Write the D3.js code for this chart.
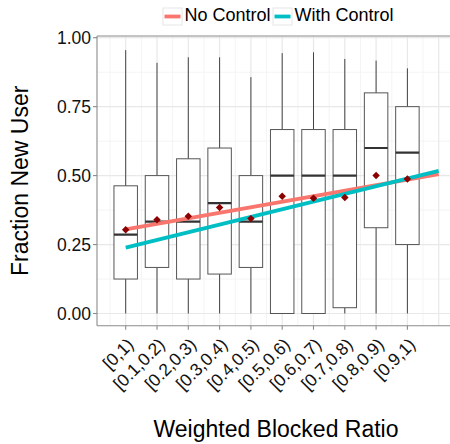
<!DOCTYPE html>
<html>
<head>
<meta charset="utf-8">
<script src="https://cdn.jsdelivr.net/npm/d3@7"></script>
<style>
  html, body { margin: 0; padding: 0; background: #fff; }
  svg { display: block; font-family: "Liberation Sans", Arial, Helvetica, sans-serif; }
</style>
</head>
<body>
<svg id="chart" width="450" height="444"></svg>
<script>
// ---- data ----
const categories = ["[0,1)", "[0.1,0.2)", "[0.2,0.3)", "[0.3,0.4)", "[0.4,0.5)",
                    "[0.5,0.6)", "[0.6,0.7)", "[0.7,0.8)", "[0.8,0.9)", "[0.9,1)"];
const whiskerLow  = [0, 0, 0, 0, 0, 0, 0, 0, 0, 0];
const q1          = [0.125, 0.167, 0.125, 0.143, 0.167, 0, 0, 0.021, 0.311, 0.25];
const medians     = [0.286, 0.333, 0.333, 0.4, 0.333, 0.5, 0.5, 0.5, 0.6, 0.583];
const q3          = [0.463, 0.5, 0.561, 0.6, 0.5, 0.667, 0.667, 0.667, 0.8, 0.75];
const whiskerHigh = [0.955, 0.909, 0.929, 0.929, 0.857, 0.944, 0.947, 0.923, 0.917, 0.889];
const means       = [0.304, 0.340, 0.353, 0.384, 0.344, 0.425, 0.418, 0.421, 0.5, 0.488];

const regX          = [1, 11];
const noControlY    = [0.305, 0.505];
const withControlY  = [0.239, 0.517];
const seriesNames   = ["No Control", "With Control"];
const seriesColors  = ["#F8766D", "#00BFC4"];

const yTicks = [0, 0.25, 0.5, 0.75, 1.0];
const yMinor = [0.125, 0.375, 0.625, 0.875];

// ---- layout ----
const svg = d3.select("#chart");
const panel = { left: 97, right: 455, top: 36, bottom: 325.7 };

const x = d3.scaleLinear().domain([1, 11]).range([125.7, 438.7]);
const y = d3.scaleLinear().domain([0, 1]).range([313.5, 37.7]);

const clipId = "panelClip";
svg.append("clipPath").attr("id", clipId)
  .append("rect").attr("x", panel.left).attr("y", panel.top)
  .attr("width", panel.right - panel.left).attr("height", panel.bottom - panel.top);

const g = svg.append("g").attr("clip-path", `url(#${clipId})`);

// grid
const xMajor = d3.range(1, 12);
const xMinor = d3.range(0.5, 12, 1);
g.selectAll("line.hminor").data(yMinor).enter().append("line")
  .attr("x1", panel.left).attr("x2", panel.right)
  .attr("y1", d => y(d)).attr("y2", d => y(d))
  .attr("stroke", "#f4f4f4").attr("stroke-width", 1);
g.selectAll("line.vminor").data(xMinor).enter().append("line")
  .attr("y1", panel.top).attr("y2", panel.bottom)
  .attr("x1", d => x(d)).attr("x2", d => x(d))
  .attr("stroke", "#f4f4f4").attr("stroke-width", 1);
g.selectAll("line.hmajor").data(yTicks).enter().append("line")
  .attr("x1", panel.left).attr("x2", panel.right)
  .attr("y1", d => y(d)).attr("y2", d => y(d))
  .attr("stroke", "#e8e8e8").attr("stroke-width", 1.2);
g.selectAll("line.vmajor").data(xMajor).enter().append("line")
  .attr("y1", panel.top).attr("y2", panel.bottom)
  .attr("x1", d => x(d)).attr("x2", d => x(d))
  .attr("stroke", "#e8e8e8").attr("stroke-width", 1.2);

// boxplots
const boxHalf = 0.375;
const boxes = categories.map((c, i) => ({
  i: i + 1, lo: whiskerLow[i], q1: q1[i], med: medians[i], q3: q3[i], hi: whiskerHigh[i]
}));
const bg = g.append("g");
boxes.forEach(b => {
  const cx = x(b.i);
  bg.append("line").attr("x1", cx).attr("x2", cx)
    .attr("y1", y(b.q3)).attr("y2", y(b.hi))
    .attr("stroke", "#444").attr("stroke-width", 1);
  bg.append("line").attr("x1", cx).attr("x2", cx)
    .attr("y1", y(b.q1)).attr("y2", y(b.lo))
    .attr("stroke", "#444").attr("stroke-width", 1);
  bg.append("rect")
    .attr("x", x(b.i - boxHalf)).attr("width", x(b.i + boxHalf) - x(b.i - boxHalf))
    .attr("y", y(b.q3)).attr("height", y(b.q1) - y(b.q3))
    .attr("fill", "#fff").attr("stroke", "#555").attr("stroke-width", 1);
  bg.append("line")
    .attr("x1", x(b.i - boxHalf)).attr("x2", x(b.i + boxHalf))
    .attr("y1", y(b.med)).attr("y2", y(b.med))
    .attr("stroke", "#333").attr("stroke-width", 2.2);
});

// regression lines
const line = d3.line().x(d => x(d[0])).y(d => y(d[1]));
[noControlY, withControlY].forEach((ys, k) => {
  g.append("path")
    .datum(regX.map((xx, j) => [xx, ys[j]]))
    .attr("d", line).attr("fill", "none")
    .attr("stroke", seriesColors[k]).attr("stroke-width", 3.8);
});

// means
const diamond = d3.symbol().type(d3.symbolSquare).size(28);
g.selectAll("path.mean").data(means).enter().append("path")
  .attr("d", diamond)
  .attr("transform", (d, i) => `translate(${x(i + 1)},${y(d)}) rotate(45)`)
  .attr("fill", "#8B0000");

// panel border / axis lines
const axisColor = "#8a8a8a";
svg.append("line").attr("x1", panel.left).attr("x2", panel.left)
  .attr("y1", panel.top).attr("y2", panel.bottom).attr("stroke", axisColor).attr("stroke-width", 1.1);
svg.append("line").attr("x1", panel.left).attr("x2", panel.right)
  .attr("y1", panel.bottom).attr("y2", panel.bottom).attr("stroke", axisColor).attr("stroke-width", 1.1);
svg.append("line").attr("x1", panel.left).attr("x2", panel.right)
  .attr("y1", panel.top).attr("y2", panel.top).attr("stroke", axisColor).attr("stroke-width", 1.1);

// y axis ticks & labels
const yAxis = svg.append("g");
yTicks.forEach(t => {
  yAxis.append("line").attr("x1", panel.left - 4).attr("x2", panel.left)
    .attr("y1", y(t)).attr("y2", y(t)).attr("stroke", axisColor).attr("stroke-width", 1.1);
  yAxis.append("text").attr("x", panel.left - 6).attr("y", y(t))
    .attr("dy", "0.35em").attr("text-anchor", "end")
    .attr("font-size", "17.5px").attr("fill", "#111").text(d3.format(".2f")(t));
});

// x axis ticks & labels
const xAxis = svg.append("g");
categories.forEach((c, i) => {
  const cx = x(i + 1);
  xAxis.append("line").attr("x1", cx).attr("x2", cx)
    .attr("y1", panel.bottom).attr("y2", panel.bottom + 4)
    .attr("stroke", axisColor).attr("stroke-width", 1.1);
  xAxis.append("text")
    .attr("transform", `translate(${cx + 9},${panel.bottom + 20}) rotate(-45)`)
    .attr("text-anchor", "end")
    .attr("font-size", "17.5px").attr("fill", "#111").text(c);
});

// axis titles
svg.append("text").attr("x", 276).attr("y", 437)
  .attr("text-anchor", "middle").attr("font-size", "23px").attr("fill", "#000")
  .text("Weighted Blocked Ratio");
svg.append("text")
  .attr("transform", `translate(27.5,${(panel.top + panel.bottom) / 2}) rotate(-90)`)
  .attr("text-anchor", "middle").attr("font-size", "23px").attr("fill", "#000")
  .text("Fraction New User");

// legend
const legendItems = [
  { name: seriesNames[0], color: seriesColors[0], kx: 163 },
  { name: seriesNames[1], color: seriesColors[1], kx: 273 }
];
const lg = svg.append("g");
legendItems.forEach(it => {
  lg.append("rect").attr("x", it.kx).attr("y", 8).attr("width", 19).attr("height", 17)
    .attr("fill", "#fff").attr("stroke", "#e6e6e6").attr("stroke-width", 1);
  lg.append("line").attr("x1", it.kx + 1.5).attr("x2", it.kx + 17.5)
    .attr("y1", 16.5).attr("y2", 16.5).attr("stroke", it.color).attr("stroke-width", 3.8);
  lg.append("text").attr("x", it.kx + 21.5).attr("y", 20.5)
    .attr("font-size", "18px").attr("fill", "#000").text(it.name);
});
</script>
</body>
</html>
